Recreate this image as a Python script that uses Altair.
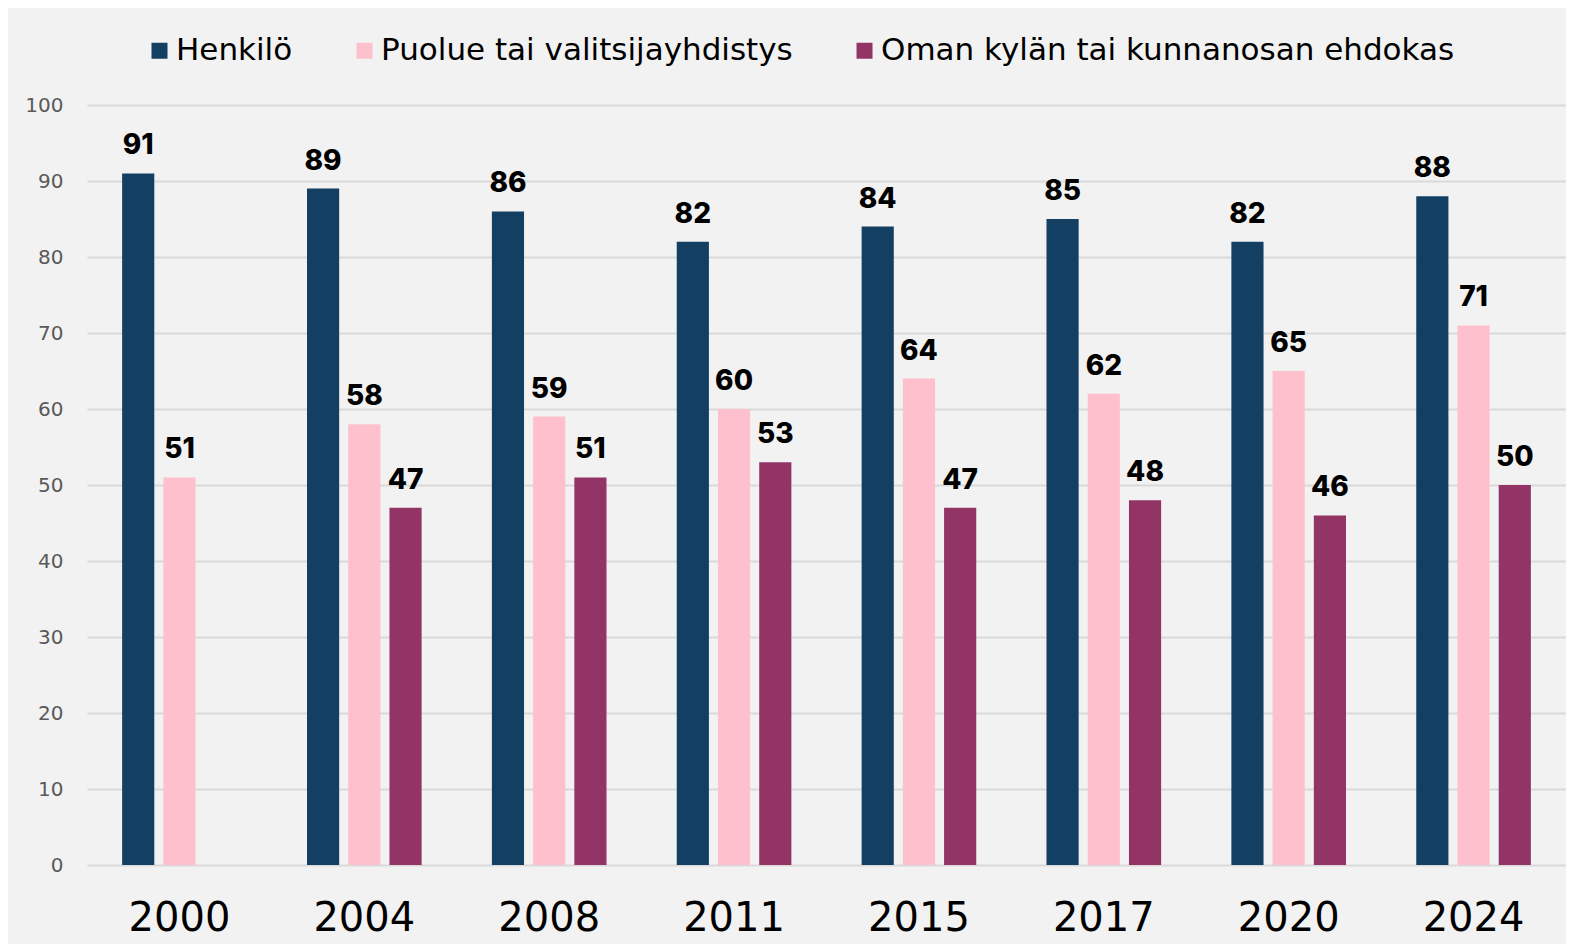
import altair as alt
import pandas as pd

years = ["2000", "2004", "2008", "2011", "2015", "2017", "2020", "2024"]
series = ["Henkilö", "Puolue tai valitsijayhdistys", "Oman kylän tai kunnanosan ehdokas"]
henkilo = [91, 89, 86, 82, 84, 85, 82, 88]
puolue = [51, 58, 59, 60, 64, 62, 65, 71]
oma_kyla = [None, 47, 51, 53, 47, 48, 46, 50]
colors = ["#123f62", "#ffc0ce", "#933467"]

rows = []
for s, vals in zip(series, [henkilo, puolue, oma_kyla]):
    for y, v in zip(years, vals):
        if v is not None:
            rows.append({"year": y, "series": s, "value": v})
df = pd.DataFrame(rows)

FONT = "DejaVu Sans"

x = alt.X("year:N", sort=years, title=None,
          scale=alt.Scale(paddingInner=0.38, paddingOuter=0.19),
          axis=alt.Axis(labelAngle=0, labelFontSize=40, labelColor="#000000", labelFont=FONT,
                        domain=False, ticks=False, labelPadding=33))
xo = alt.XOffset("series:N", sort=series,
                 scale=alt.Scale(domain=series, paddingInner=0.22, paddingOuter=0))
y = alt.Y("value:Q", title=None,
          scale=alt.Scale(domain=[0, 100], nice=False),
          axis=alt.Axis(values=list(range(0, 101, 10)), labelFontSize=20, labelColor="#595959",
                        labelFont=FONT, domain=False, ticks=False, labelPadding=24,
                        gridColor="#d9d9d9", gridWidth=2))

bars = alt.Chart(df).mark_bar().encode(
    x=x, xOffset=xo, y=y,
    color=alt.Color("series:N", sort=series,
                    scale=alt.Scale(domain=series, range=colors),
                    legend=alt.Legend(title=None, orient="none", legendX=57, legendY=-70,
                                      direction="horizontal", columns=3, symbolType="square",
                                      symbolSize=256, symbolStrokeWidth=0, labelFontSize=31,
                                      labelFont=FONT, labelColor="#000000", labelOffset=1,
                                      columnPadding=56, labelLimit=1000)),
)

labels = alt.Chart(df).mark_text(fontSize=28, fontWeight=800, font="Inter",
                                 baseline="alphabetic", dy=-19, color="#000000").encode(
    x=alt.X("year:N", sort=years), xOffset=alt.XOffset("series:N", sort=series), y="value:Q",
    text="value:Q",
)

chart = (bars + labels).properties(
    width=1479, height=760,
    padding={"left": 79, "top": 97, "right": 0, "bottom": 79},
    autosize=alt.AutoSizeParams(type="none"),
    background="#f2f2f2",
).configure_view(stroke=None)

chart.save("out.html", embed_options={"renderer": "svg", "actions": False})
